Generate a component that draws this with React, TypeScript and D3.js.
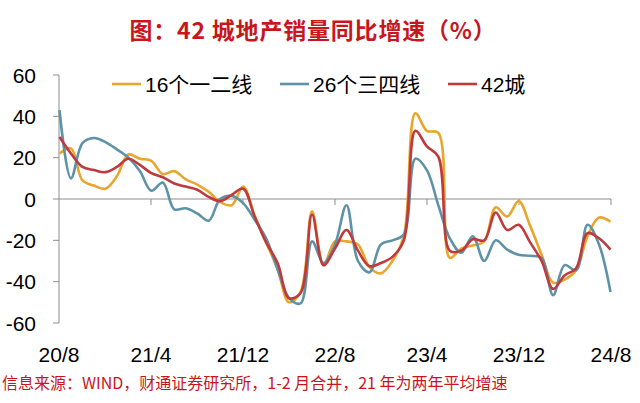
import React from "react";
import * as d3 from "d3";

const xTickLabels = ["20/8", "21/4", "21/12", "22/8", "23/4", "23/12", "24/8"];
const yTicks = [60, 40, 20, 0, -20, -40, -60];
const seriesNames = ["16个一二线", "26个三四线", "42城"];
const seriesColors = ["#E8A72C", "#5E93A7", "#BF3A3C"];

// monthly values 2020/8 .. 2024/8
const tier12 = [22, 24.5, 9, 6.5, 5, 11, 21.5, 19.5, 18.5, 12, 13.5, 9.5, 7, 3.5, -1.5, -3, 6, -8, -21, -34, -50, -45, -6, -32, -20.5, -20.5, -22, -33, -36, -30, -18, 41.5, 33, 32, -28.5, -24, -22.5, -20.5, -4, -8.5, -1, -13, -27, -40.5, -39, -34.5, -18, -9, -11];
const tier34 = [43, 10, 27, 29.5, 27.5, 24, 20, 13.5, 4, 8, -5, -4.5, -7, -10.5, 0, 1.5, -2, -10, -19, -34, -48, -50.5, -20.5, -31, -22, -3, -30, -35.5, -22, -20, -17, 19.5, 14, -3, -19, -26, -18, -30, -20, -24.5, -27, -27.5, -28.5, -46.5, -32, -34.5, -12.5, -22, -45];
const city42 = [30, 22, 15.5, 14, 13, 15.5, 19.5, 16.5, 12.5, 10.5, 7.5, 6, 4.5, 1, -1, 2, 5, -8.5, -21, -31, -48, -45.5, -7.5, -32, -24, -15, -25, -32.5, -31, -28, -20, 33, 25.5, 20.5, -25, -25, -19.5, -20, -6.5, -15, -12.5, -21, -30, -43.5, -37, -33.5, -16.5, -19, -24.5];

const seriesData = [tier12, tier34, city42];

export default function App() {
  const W = 640, H = 403;
  const n = tier12.length;
  const x = d3.scaleLinear().domain([0, n - 1]).range([59.5, 610.5]);
  const y = d3.scaleLinear().domain([-60, 60]).range([323, 75]);
  const line = d3
    .line<number>()
    .x((_, i) => x(i))
    .y((d) => y(d))
    .curve(d3.curveCatmullRom.alpha(0.5));
  const latin = "'Liberation Sans', Arial, 'Noto Sans CJK SC', sans-serif";
  const cjk = "'Liberation Sans', 'Noto Sans CJK SC', sans-serif";
  const axisColor = "#8c8c8c";
  const legendX = [112, 280, 448];

  return (
    <svg
      width={W}
      height={H}
      viewBox={`0 0 ${W} ${H}`}
      style={{ position: "fixed", left: 0, top: 0, background: "#fff" }}
    >
      <rect x={0} y={0} width={W} height={H} fill="#fff" />
      <text
        x={313}
        y={39}
        textAnchor="middle"
        fontFamily="'Noto Sans CJK SC', sans-serif"
        fontWeight={700}
        fontSize={23}
        letterSpacing={0.8}
        fill="#C8161D"
      >
        图：42 城地产销量同比增速（%）
      </text>

      {/* y axis */}
      <line x1={59} x2={59} y1={y(60)} y2={y(-60)} stroke={axisColor} strokeWidth={1} />
      {yTicks.map((t) => (
        <g key={t}>
          <line x1={53} x2={59} y1={y(t)} y2={y(t)} stroke={axisColor} strokeWidth={1} />
          <text x={36} y={y(t) + 7.5} textAnchor="end" fontFamily={latin} fontSize={21} fill="#000">
            {t}
          </text>
        </g>
      ))}

      {/* zero axis */}
      <line x1={59} x2={611} y1={y(0)} y2={y(0)} stroke={axisColor} strokeWidth={1} />
      {xTickLabels.map((lab, k) => (
        <g key={lab}>
          {k > 0 && (
            <line x1={59 + k * 92} x2={59 + k * 92} y1={y(0)} y2={y(0) + 6} stroke={axisColor} strokeWidth={1} />
          )}
          <text x={59 + k * 92} y={362} textAnchor="middle" fontFamily={latin} fontSize={21} fill="#000">
            {lab}
          </text>
        </g>
      ))}

      {/* series */}
      {seriesData.map((s, i) => (
        <path key={i} d={line(s) || ""} fill="none" stroke={seriesColors[i]} strokeWidth={2.6} strokeLinejoin="round" />
      ))}

      {/* legend */}
      {seriesNames.map((nm, i) => (
        <g key={nm}>
          <line x1={legendX[i]} x2={legendX[i] + 29} y1={84} y2={84} stroke={seriesColors[i]} strokeWidth={2.6} />
          <text x={legendX[i] + 33} y={91.5} fontFamily={cjk} fontSize={21} fill="#000">
            {nm}
          </text>
        </g>
      ))}

      <text x={2} y={389} fontFamily="'Noto Sans CJK SC', sans-serif" fontSize={16} fill="#C8161D">
        信息来源：WIND，财通证券研究所，1-2 月合并，21 年为两年平均增速
      </text>
    </svg>
  );
}
